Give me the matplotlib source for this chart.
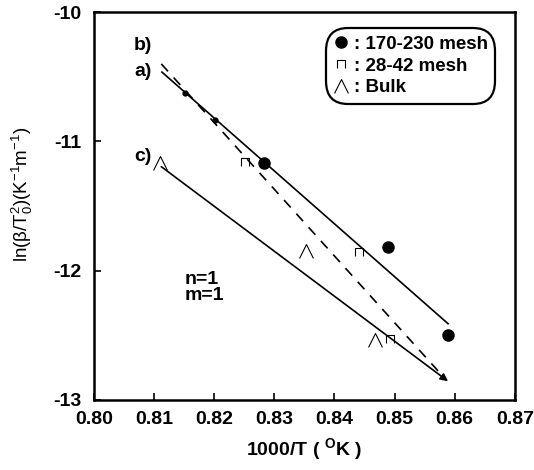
import numpy as np
import matplotlib.pyplot as plt
from matplotlib.path import Path

plt.rcParams['font.family'] = ['Liberation Sans', 'DejaVu Sans']
plt.rcParams['mathtext.fontset'] = 'custom'
plt.rcParams['mathtext.rm'] = 'Liberation Sans'
plt.rcParams['mathtext.bf'] = 'Liberation Sans:bold'
plt.rcParams['mathtext.default'] = 'regular'
plt.rcParams['axes.unicode_minus'] = False

# data
mesh170_x = [0.8282, 0.8489, 0.8589]
mesh170_y = [-11.166, -11.817, -12.50]
mesh170_faint_x = [0.8151, 0.8201]   # points nearly hidden by line a)
mesh170_faint_y = [-10.625, -10.834]
mesh28_x = [0.8251, 0.8441, 0.8493]
mesh28_y = [-11.158, -11.859, -12.525]
bulk_x = [0.8110, 0.8353, 0.8467]
bulk_y = [-11.168, -11.851, -12.538]

# fitted lines: (x_start, x_end), (y_start, y_end)
fit_a = ([0.8113, 0.8589], [-10.463, -12.41])
fit_b = ([0.8112, 0.8583], [-10.40, -12.83])
fit_c = ([0.8112, 0.8589], [-11.195, -12.855])

line_labels = ["b)", "a)", "c)"]
line_label_y = [-10.26, -10.46, -11.12]
legend_labels = [": 170-230 mesh", ": 28-42 mesh", ": Bulk"]

# open-bottom square and base-less triangle markers
cap_marker = Path([(-1, -1), (-1, 1), (1, 1), (1, -1)],
                  [Path.MOVETO, Path.LINETO, Path.LINETO, Path.LINETO])
hat_marker = Path([(-1, -1), (0, 1), (1, -1)],
                  [Path.MOVETO, Path.LINETO, Path.LINETO])

fig = plt.figure(figsize=(5.34, 4.70), dpi=100)
ax = fig.add_axes([0.176, 0.149, 0.788, 0.825])

ax.plot(*fit_a, color='black', lw=1.2)
ax.plot(*fit_b, color='black', lw=1.2, ls=(0, (6, 5)))
ax.annotate("", xy=(fit_c[0][1], fit_c[1][1]), xytext=(fit_c[0][0], fit_c[1][0]),
            arrowprops=dict(arrowstyle='-|>', color='black', lw=1.2,
                            mutation_scale=11, shrinkA=0, shrinkB=0))

h1, = ax.plot(mesh170_x, mesh170_y, 'o', color='black', ms=8, ls='none')
ax.plot(mesh170_faint_x, mesh170_faint_y, 'o', color='black', ms=3.5, ls='none')
h2, = ax.plot(mesh28_x, mesh28_y, marker=cap_marker, color='black', mfc='none',
              mew=0.8, ms=5.5, ls='none')
h3, = ax.plot(bulk_x, bulk_y, marker=hat_marker, color='black', mfc='none',
              mew=0.8, ms=10, ls='none')

for lab, ly in zip(line_labels, line_label_y):
    ax.text(0.8082, ly, lab, fontsize=14, fontweight='bold', ha='center', va='center')

ax.text(0.8150, -12.07, "n=1", fontsize=14, fontweight='bold', va='center')
ax.text(0.8150, -12.19, "m=1", fontsize=14, fontweight='bold', va='center')

leg = ax.legend([h1, h2, h3], legend_labels, loc='upper right',
                bbox_to_anchor=(0.943, 0.947), frameon=True, fancybox=True,
                handlelength=0.8, handletextpad=0.3, labelspacing=0.25,
                borderpad=0.15, borderaxespad=0, prop={'weight': 'bold', 'size': 13.5},
                edgecolor='black', framealpha=1)
leg.get_frame().set_linewidth(1.6)
leg.get_frame().set_boxstyle('round,pad=0.25,rounding_size=1.2')

ax.set_xlim(0.80, 0.87)
ax.set_ylim(-13, -10)
ax.set_xticks(np.arange(0.80, 0.8701, 0.01))
ax.set_xticklabels([f"{v:.2f}" for v in np.arange(0.80, 0.8701, 0.01)])
ax.set_yticks([-13, -12, -11, -10])
ax.tick_params(direction='in', length=5, width=1.2, labelsize=14)
ax.tick_params(axis='x', pad=8)
ax.tick_params(axis='y', pad=9)
for lab in ax.get_xticklabels() + ax.get_yticklabels():
    lab.set_fontweight('bold')
for sp in ax.spines.values():
    sp.set_linewidth(1.8)

ax.set_xlabel(r"1000/T ( $^{\mathbf{O}}$K )", fontsize=14, fontweight='bold', labelpad=6)
ax.set_ylabel(r"ln($\beta$/T$^{2}_{0}$)(K$^{-1}$m$^{-1}$)", fontsize=13.5)
ax.yaxis.set_label_coords(-0.14, 0.53)

fig.savefig("out.png", dpi=100)
